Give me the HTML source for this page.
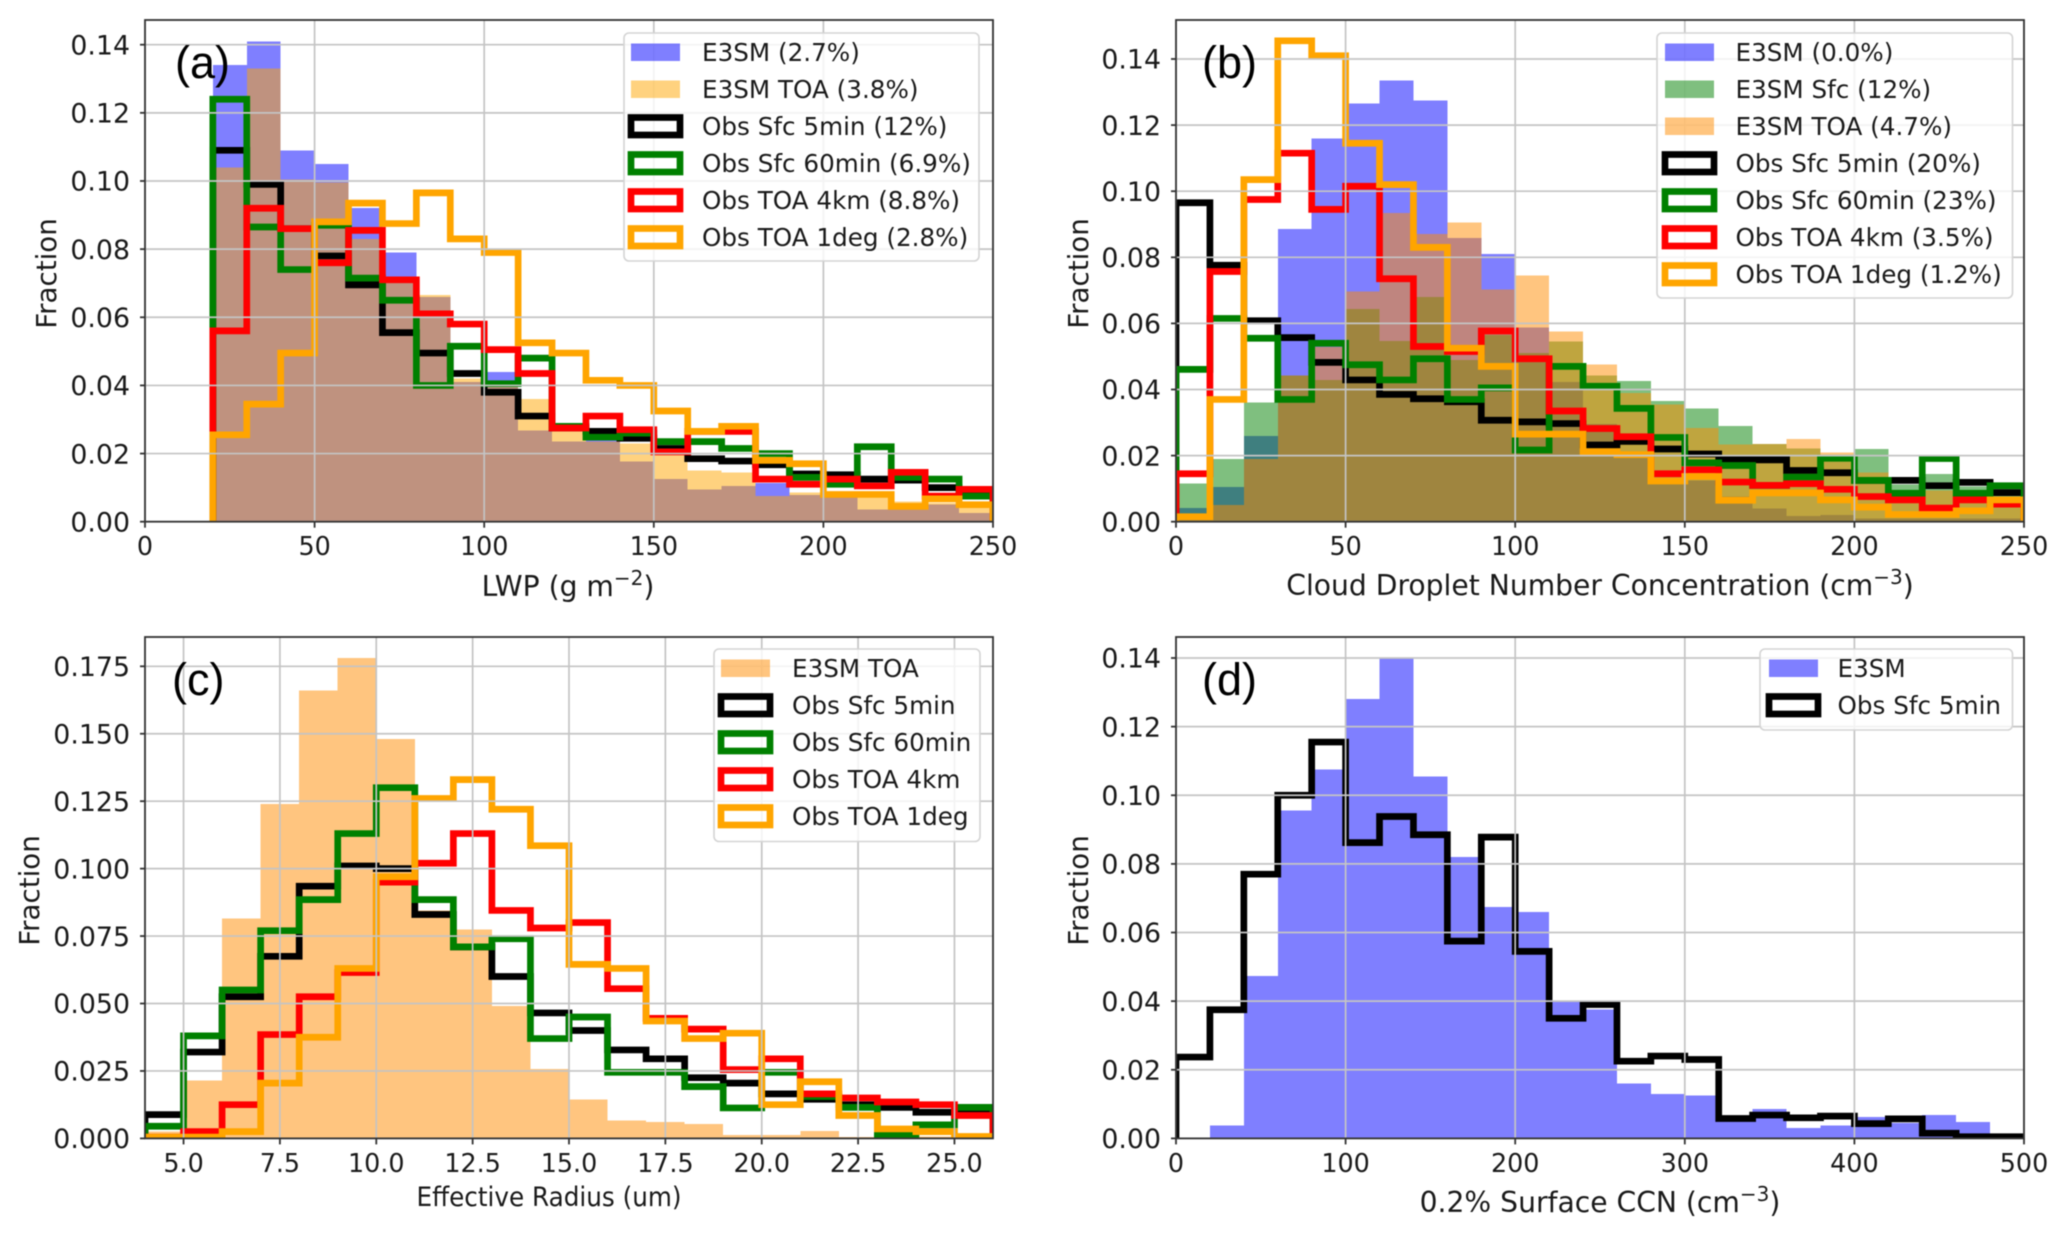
<!DOCTYPE html>
<html lang="en">
<head>
<meta charset="utf-8">
<title>Cloud property histograms</title>
<style>
html,body{margin:0;padding:0;background:#fff;}
svg{display:block;filter:blur(0.45px);}
text{font-family:"DejaVu Sans",sans-serif;fill:#1a1a1a;}
.xtick{font-size:25.4px;}
.ytick{font-size:26.8px;}
.axt{font-size:28.2px;}
.ayt{font-size:27.7px;}
.axc{font-size:26.5px;}
.leg{font-size:24.65px;}
.plab{font-family:"Liberation Sans",sans-serif;font-size:45px;fill:#000;}
.lbg{fill:#fff;fill-opacity:.8;stroke:#d4d4d4;stroke-width:1.6;}
.ls{fill:none;stroke-width:6.7;}
</style>
</head>
<body>
<svg xmlns="http://www.w3.org/2000/svg" width="2067" height="1235" viewBox="0 0 2067 1235">
<defs>
<clipPath id="clip-a"><rect x="145" y="20" width="848" height="502"/></clipPath>
<clipPath id="clip-b"><rect x="1176" y="20" width="848" height="502"/></clipPath>
<clipPath id="clip-c"><rect x="145" y="637" width="848" height="501.5"/></clipPath>
<clipPath id="clip-d"><rect x="1176" y="637" width="848" height="501.5"/></clipPath>
</defs>
<rect width="2067" height="1235" fill="#fff"/>

<!-- Panel a -->
<g>
  <g id="marks-a" clip-path="url(#clip-a)"></g>
  <g id="axis-a"></g>
  <text class="axt" x="568" y="596" text-anchor="middle">LWP (g m<tspan dy="-11" font-size="20px">−2</tspan><tspan dy="11">)</tspan></text>
  <text class="ayt" transform="translate(56,273.5) rotate(-90)" text-anchor="middle">Fraction</text>
  <text class="plab" x="175" y="78">(a)</text>
  <g>
    <rect class="lbg" x="624" y="33" width="355" height="228" rx="5"/>
    <g><rect x="631" y="43.5" width="49" height="17.5" fill="#0000ff" fill-opacity=".5"/><text class="leg" x="702" y="61">E3SM (2.7%)</text></g>
    <g><rect x="631" y="80.5" width="49" height="17.5" fill="#ffa500" fill-opacity=".5"/><text class="leg" x="702" y="98">E3SM TOA (3.8%)</text></g>
    <g><rect class="ls" x="631" y="117.5" width="49" height="17.5" stroke="#000"/><text class="leg" x="702" y="135">Obs Sfc 5min (12%)</text></g>
    <g><rect class="ls" x="631" y="154.5" width="49" height="17.5" stroke="#008000"/><text class="leg" x="702" y="172">Obs Sfc 60min (6.9%)</text></g>
    <g><rect class="ls" x="631" y="191.5" width="49" height="17.5" stroke="#ff0000"/><text class="leg" x="702" y="209">Obs TOA 4km (8.8%)</text></g>
    <g><rect class="ls" x="631" y="228.5" width="49" height="17.5" stroke="#ffa500"/><text class="leg" x="702" y="246">Obs TOA 1deg (2.8%)</text></g>
  </g>
</g>

<!-- Panel b -->
<g>
  <g id="marks-b" clip-path="url(#clip-b)"></g>
  <g id="axis-b"></g>
  <text class="axt" x="1600" y="595" text-anchor="middle">Cloud Droplet Number Concentration (cm<tspan dy="-11" font-size="20px">−3</tspan><tspan dy="11">)</tspan></text>
  <text class="ayt" transform="translate(1088,273.5) rotate(-90)" text-anchor="middle">Fraction</text>
  <text class="plab" x="1202" y="78">(b)</text>
  <g>
    <rect class="lbg" x="1657" y="33" width="355.5" height="265" rx="5"/>
    <g><rect x="1665" y="43.5" width="49" height="17.5" fill="#0000ff" fill-opacity=".5"/><text class="leg" x="1735.5" y="61">E3SM (0.0%)</text></g>
    <g><rect x="1665" y="80.5" width="49" height="17.5" fill="#008000" fill-opacity=".5"/><text class="leg" x="1735.5" y="98">E3SM Sfc (12%)</text></g>
    <g><rect x="1665" y="117.5" width="49" height="17.5" fill="#ff8c00" fill-opacity=".5"/><text class="leg" x="1735.5" y="135">E3SM TOA (4.7%)</text></g>
    <g><rect class="ls" x="1665" y="154.5" width="49" height="17.5" stroke="#000"/><text class="leg" x="1735.5" y="172">Obs Sfc 5min (20%)</text></g>
    <g><rect class="ls" x="1665" y="191.5" width="49" height="17.5" stroke="#008000"/><text class="leg" x="1735.5" y="209">Obs Sfc 60min (23%)</text></g>
    <g><rect class="ls" x="1665" y="228.5" width="49" height="17.5" stroke="#ff0000"/><text class="leg" x="1735.5" y="246">Obs TOA 4km (3.5%)</text></g>
    <g><rect class="ls" x="1665" y="265.5" width="49" height="17.5" stroke="#ffa500"/><text class="leg" x="1735.5" y="283">Obs TOA 1deg (1.2%)</text></g>
  </g>
</g>

<!-- Panel c -->
<g>
  <g id="marks-c" clip-path="url(#clip-c)"></g>
  <g id="axis-c"></g>
  <text class="axc" x="549" y="1206" text-anchor="middle" textLength="265" lengthAdjust="spacingAndGlyphs">Effective Radius (um)</text>
  <text class="ayt" transform="translate(39,890.5) rotate(-90)" text-anchor="middle">Fraction</text>
  <text class="plab" x="172" y="695">(c)</text>
  <g>
    <rect class="lbg" x="714" y="649" width="266" height="192.5" rx="5"/>
    <g><rect x="721" y="659.5" width="49" height="17.5" fill="#ff8c00" fill-opacity=".5"/><text class="leg" x="792" y="677">E3SM TOA</text></g>
    <g><rect class="ls" x="721" y="696.5" width="49" height="17.5" stroke="#000"/><text class="leg" x="792" y="714">Obs Sfc 5min</text></g>
    <g><rect class="ls" x="721" y="733.5" width="49" height="17.5" stroke="#008000"/><text class="leg" x="792" y="751">Obs Sfc 60min</text></g>
    <g><rect class="ls" x="721" y="770.5" width="49" height="17.5" stroke="#ff0000"/><text class="leg" x="792" y="788">Obs TOA 4km</text></g>
    <g><rect class="ls" x="721" y="807.5" width="49" height="17.5" stroke="#ffa500"/><text class="leg" x="792" y="825">Obs TOA 1deg</text></g>
  </g>
</g>

<!-- Panel d -->
<g>
  <g id="marks-d" clip-path="url(#clip-d)"></g>
  <g id="axis-d"></g>
  <text class="axt" x="1600" y="1212" text-anchor="middle">0.2% Surface CCN (cm<tspan dy="-11" font-size="20px">−3</tspan><tspan dy="11">)</tspan></text>
  <text class="ayt" transform="translate(1088,890.5) rotate(-90)" text-anchor="middle">Fraction</text>
  <text class="plab" x="1202" y="695">(d)</text>
  <g>
    <rect class="lbg" x="1760" y="649" width="252.5" height="81" rx="5"/>
    <g><rect x="1769" y="659.5" width="49" height="17.5" fill="#0000ff" fill-opacity=".5"/><text class="leg" x="1837.5" y="677">E3SM</text></g>
    <g><rect class="ls" x="1769" y="696.5" width="49" height="17.5" stroke="#000"/><text class="leg" x="1837.5" y="714">Obs Sfc 5min</text></g>
  </g>
</g>
</svg>

<script>
// ---------- Panel a: LWP (bins start at 20, width 10) ----------
const aBinStart = 20;
const aBinWidth = 10;
const aE3sm    = [.134,.141,.109,.105,.092,.079,.066,.041,.044,.0267,.0236,.024,.0177,.0125,.0094,.0105,.0113,.0078,.0078,.0036,.0037,.005,.0025];
const aE3smToa = [.104,.133,.1005,.0995,.083,.0705,.0665,.042,.040,.036,.0265,.0235,.023,.020,.015,.0145,.0075,.0085,.0078,.0076,.006,.0055,.0045];
const aObs5    = [.109,.099,.086,.078,.0695,.0555,.0495,.0435,.038,.031,.0275,.0265,.0245,.0215,.0185,.0178,.0167,.014,.0138,.0125,.0122,.010,.008];
const aObs60   = [.124,.0865,.074,.087,.0715,.065,.040,.0515,.0405,.048,.028,.0248,.026,.0235,.0235,.0215,.020,.013,.011,.022,.013,.0125,.0075];
const aObs4km  = [.056,.092,.086,.076,.0855,.071,.061,.058,.0505,.0435,.0275,.031,.027,.0205,.0265,.0265,.0125,.011,.0125,.0105,.0145,.0075,.0095];
const aObs1deg = [.0255,.0345,.0495,.088,.0935,.0875,.0965,.083,.079,.0525,.0495,.0415,.040,.0325,.0265,.028,.018,.017,.008,.008,.0045,.0067,.005];
const aXTicks  = [0,50,100,150,200,250];
const aXLabels = ['0','50','100','150','200','250'];
const aYTicks  = [0,.02,.04,.06,.08,.10,.12,.14];
const aYLabels = ['0.00','0.02','0.04','0.06','0.08','0.10','0.12','0.14'];

// ---------- Panel b: droplet number (bins start at 0, width 10) ----------
const bBinStart = 0;
const bBinWidth = 10;
const bE3sm    = [.0042,.0105,.0259,.0885,.116,.1265,.1335,.1275,.0858,.081,.0587,.0422,.0295,.0196,.012,.0124,.0076,.004,.0017,.002,.001,.001,.001,.001,.001];
const bE3smSfc = [.0115,.019,.036,.0442,.0428,.0643,.0547,.068,.049,.0565,.051,.0545,.0442,.0425,.0365,.0343,.0289,.0235,.0221,.02,.022,.0112,.0144,.0107,.0105];
const bE3smToa = [.0005,.005,.019,.0442,.0528,.0697,.0934,.087,.0905,.0703,.0745,.0575,.0475,.039,.0355,.0284,.0234,.0235,.025,.021,.0149,.009,.0094,.006,.0076];
const bObs5    = [.0965,.0776,.0608,.0557,.0482,.0429,.0385,.0372,.0363,.0307,.0302,.0297,.0232,.0243,.022,.0205,.0187,.0187,.0155,.0148,.0125,.0125,.0109,.0119,.0088];
const bObs60   = [.0461,.0615,.0555,.037,.054,.0475,.0429,.0493,.037,.0405,.0217,.047,.041,.0343,.0255,.0178,.017,.011,.0135,.0192,.0125,.0086,.0191,.0086,.0109];
const bObs4km  = [.0145,.0757,.0975,.1115,.0945,.1015,.0735,.053,.0515,.0577,.0493,.0335,.0282,.0257,.0145,.0157,.012,.011,.0115,.0098,.0076,.0066,.0041,.0066,.0053];
const bObs1deg = [.0015,.037,.1035,.1455,.141,.1145,.102,.083,.0525,.047,.0265,.0265,.0212,.0203,.0123,.0137,.0065,.0087,.0087,.0066,.0044,.0022,.0022,.0033,.0066];
const bXTicks  = [0,50,100,150,200,250];
const bXLabels = ['0','50','100','150','200','250'];
const bYTicks  = [0,.02,.04,.06,.08,.10,.12,.14];
const bYLabels = ['0.00','0.02','0.04','0.06','0.08','0.10','0.12','0.14'];

// ---------- Panel c: effective radius (bins start at 4, width 1) ----------
const cBinStart = 4;
const cBinWidth = 1;
const cE3smToa = [.0025,.0215,.0815,.124,.166,.178,.148,.0845,.0775,.049,.0257,.0145,.0067,.006,.0053,.0013,.0013,.0027,.0005,.0005,.0007,.0007];
const cObs5    = [.0088,.032,.0525,.0675,.0935,.101,.100,.083,.071,.060,.0465,.040,.0328,.0295,.0225,.0205,.0165,.0145,.0125,.0115,.0097,.0095];
const cObs60   = [.0045,.038,.055,.077,.0885,.113,.130,.0885,.071,.074,.037,.045,.0245,.0245,.0192,.0113,.0245,.0155,.0115,.0015,.005,.0115];
const cObs4km  = [.0005,.0025,.0125,.0385,.0525,.0615,.095,.102,.113,.0845,.078,.080,.0555,.0445,.0405,.0255,.0295,.0165,.015,.0135,.0125,.0085];
const cObs1deg = [.0005,.0005,.0025,.0205,.0375,.063,.097,.126,.133,.122,.1085,.0645,.063,.0435,.037,.039,.0125,.021,.0085,.0035,.0025,.0007];
const cXTicks  = [5,7.5,10,12.5,15,17.5,20,22.5,25];
const cXLabels = ['5.0','7.5','10.0','12.5','15.0','17.5','20.0','22.5','25.0'];
const cYTicks  = [0,.025,.05,.075,.1,.125,.15,.175];
const cYLabels = ['0.000','0.025','0.050','0.075','0.100','0.125','0.150','0.175'];

// ---------- Panel d: surface CCN (bins start at 0, width 20) ----------
const dBinStart = 0;
const dBinWidth = 20;
const dE3sm    = [0,.0037,.0473,.0955,.1075,.128,.14,.1055,.082,.0675,.066,.04,.0375,.016,.013,.0125,.005,.0085,.003,.0038,.0062,.0045,.0068,.0048,0];
const dObs5    = [.0237,.0375,.077,.100,.1155,.0862,.0938,.0885,.0575,.0878,.0545,.035,.039,.0225,.024,.023,.0058,.0068,.006,.0065,.0043,.0057,.0015,.0005,.0005];
const dXTicks  = [0,100,200,300,400,500];
const dXLabels = ['0','100','200','300','400','500'];
const dYTicks  = [0,.02,.04,.06,.08,.10,.12,.14];
const dYLabels = ['0.00','0.02','0.04','0.06','0.08','0.10','0.12','0.14'];

const SVGNS = 'http://www.w3.org/2000/svg';
const GRID = '#c4c4c4';
const INK = '#333';

function scale(d0, d1, r0, r1) {
  return function (v) { return r0 + (v - d0) * (r1 - r0) / (d1 - d0); };
}

function node(tag, parent) {
  const el = document.createElementNS(SVGNS, tag);
  parent.appendChild(el);
  return el;
}

function drawBars(layer, x, y, start, width, values, color) {
  values.forEach(function (v, i) {
    const x0 = x(start + i * width);
    const x1 = x(start + (i + 1) * width);
    const top = y(v);
    const el = node('rect', layer);
    
    
    el.setAttribute('x', x0);
    el.setAttribute('y', top);
    el.setAttribute('width', x1 - x0);
    el.setAttribute('height', y(0) - top);
    el.setAttribute('fill', color);
    el.setAttribute('fill-opacity', '0.5');
    el.setAttribute('shape-rendering', 'crispEdges');
  });
}

function drawStep(layer, x, y, start, width, values, color) {
  let d = 'M' + x(start) + ' ' + y(0);
  values.forEach(function (v, i) {
    d += 'V' + y(v) + 'H' + x(start + (i + 1) * width);
  });
  d += 'V' + y(0);
  const el = node('path', layer);
  
  
  el.setAttribute('d', d);
  el.setAttribute('fill', 'none');
  el.setAttribute('stroke', color);
  el.setAttribute('stroke-width', '6.7');
  el.setAttribute('stroke-linejoin', 'miter');
}

function drawGrid(layer, x, y, xTicks, yTicks, box) {
  xTicks.forEach(function (t) {
    const el = node('line', layer);
    
    
    el.setAttribute('x1', x(t));
    el.setAttribute('x2', x(t));
    el.setAttribute('y1', box.top);
    el.setAttribute('y2', box.bottom);
    el.setAttribute('stroke', GRID);
    el.setAttribute('stroke-width', '1.7');
  });
  yTicks.forEach(function (t) {
    const el = node('line', layer);
    
    
    el.setAttribute('x1', box.left);
    el.setAttribute('x2', box.right);
    el.setAttribute('y1', y(t));
    el.setAttribute('y2', y(t));
    el.setAttribute('stroke', GRID);
    el.setAttribute('stroke-width', '1.7');
  });
}

function drawAxes(layer, x, y, xTicks, xLabels, yTicks, yLabels, box, xBaseline) {
  const frame = node('rect', layer);
  
  
  frame.setAttribute('x', box.left);
  frame.setAttribute('y', box.top);
  frame.setAttribute('width', box.right - box.left);
  frame.setAttribute('height', box.bottom - box.top);
  frame.setAttribute('fill', 'none');
  frame.setAttribute('stroke', INK);
  frame.setAttribute('stroke-width', '1.8');

  xTicks.forEach(function (t, i) {
    const mark = node('line', layer);
    
    
    mark.setAttribute('x1', x(t));
    mark.setAttribute('x2', x(t));
    mark.setAttribute('y1', box.bottom);
    mark.setAttribute('y2', box.bottom + 6);
    mark.setAttribute('stroke', INK);
    mark.setAttribute('stroke-width', '1.8');
    const label = node('text', layer);
    
    
    label.setAttribute('class', 'xtick');
    label.setAttribute('x', x(t));
    label.setAttribute('y', xBaseline);
    label.setAttribute('text-anchor', 'middle');
    label.textContent = xLabels[i];
  });

  yTicks.forEach(function (t, i) {
    const mark = node('line', layer);
    
    
    mark.setAttribute('x1', box.left - 5);
    mark.setAttribute('x2', box.left);
    mark.setAttribute('y1', y(t));
    mark.setAttribute('y2', y(t));
    mark.setAttribute('stroke', INK);
    mark.setAttribute('stroke-width', '1.8');
    const label = node('text', layer);
    
    
    label.setAttribute('class', 'ytick');
    label.setAttribute('x', box.left - 15);
    label.setAttribute('y', y(t) + 9.7);
    label.setAttribute('text-anchor', 'end');
    label.textContent = yLabels[i];
  });
}

function panel(id, box, xDomain, yDomain, bins, steps, start, width, xTicks, xLabels, yTicks, yLabels, xBaseline) {
  const x = scale(xDomain[0], xDomain[1], box.left, box.right);
  const y = scale(yDomain[0], yDomain[1], box.bottom, yDomain[2]);
  const marks = document.getElementById('marks-' + id);
  const axis = document.getElementById('axis-' + id);
  bins.forEach(function (b) { drawBars(marks, x, y, start, width, b[0], b[1]); });
  steps.forEach(function (s) { drawStep(marks, x, y, start, width, s[0], s[1]); });
  drawGrid(marks, x, y, xTicks, yTicks, box);
  drawAxes(axis, x, y, xTicks, xLabels, yTicks, yLabels, box, xBaseline);
}

panel('a', {left:145,right:993,top:20,bottom:521.7}, [0,250], [0,.14,44.7],
  [[aE3sm,'#0000ff'],[aE3smToa,'#ffa500']],
  [[aObs5,'#000000'],[aObs60,'#008000'],[aObs4km,'#ff0000'],[aObs1deg,'#ffa500']],
  aBinStart, aBinWidth, aXTicks, aXLabels, aYTicks, aYLabels, 555);

panel('b', {left:1176,right:2024,top:20,bottom:521.7}, [0,250], [0,.14,59],
  [[bE3sm,'#0000ff'],[bE3smSfc,'#008000'],[bE3smToa,'#ff8c00']],
  [[bObs5,'#000000'],[bObs60,'#008000'],[bObs4km,'#ff0000'],[bObs1deg,'#ffa500']],
  bBinStart, bBinWidth, bXTicks, bXLabels, bYTicks, bYLabels, 555);

panel('c', {left:145,right:993,top:637,bottom:1138.4}, [4,26], [0,.175,666.3],
  [[cE3smToa,'#ff8c00']],
  [[cObs5,'#000000'],[cObs60,'#008000'],[cObs4km,'#ff0000'],[cObs1deg,'#ffa500']],
  cBinStart, cBinWidth, cXTicks, cXLabels, cYTicks, cYLabels, 1172);

panel('d', {left:1176,right:2024,top:637,bottom:1138.4}, [0,500], [0,.14,658],
  [[dE3sm,'#0000ff']],
  [[dObs5,'#000000']],
  dBinStart, dBinWidth, dXTicks, dXLabels, dYTicks, dYLabels, 1172);
</script>
</body>
</html>
